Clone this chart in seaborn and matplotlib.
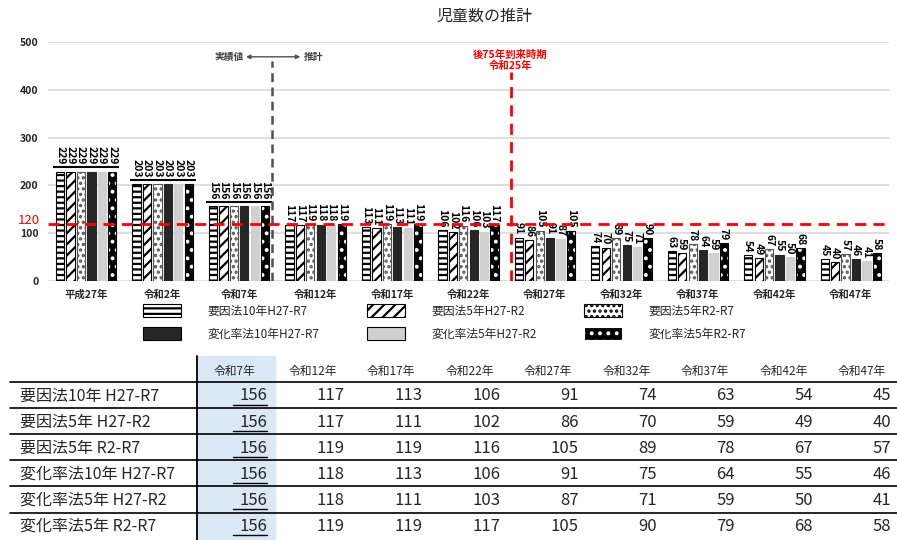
import numpy as np
import pandas as pd
import matplotlib
matplotlib.use('Agg')
import matplotlib.pyplot as plt
import seaborn as sns
from matplotlib.patches import Patch, Rectangle

# ---------------- data ----------------
years = ['平成27年', '令和2年', '令和7年', '令和12年', '令和17年', '令和22年',
         '令和27年', '令和32年', '令和37年', '令和42年', '令和47年']
series_names = ['要因法10年 H27-R7', '要因法5年 H27-R2', '要因法5年 R2-R7',
                '変化率法10年 H27-R7', '変化率法5年 H27-R2', '変化率法5年 R2-R7']
youin10_h27_r7 = [229, 203, 156, 117, 113, 106, 91, 74, 63, 54, 45]
youin5_h27_r2 = [229, 203, 156, 117, 111, 102, 86, 70, 59, 49, 40]
youin5_r2_r7 = [229, 203, 156, 119, 119, 116, 105, 89, 78, 67, 57]
henka10_h27_r7 = [229, 203, 156, 118, 113, 106, 91, 75, 64, 55, 46]
henka5_h27_r2 = [229, 203, 156, 118, 111, 103, 87, 71, 59, 50, 41]
henka5_r2_r7 = [229, 203, 156, 119, 119, 117, 105, 90, 79, 68, 58]
yticks = [0, 100, 200, 300, 400, 500]
threshold = 120
table_start = 2          # table starts at 令和7年
actual_end = 2.43        # 実績値 / 推計 boundary (category position)
r25_pos = 5.55           # 令和25年 position between 令和22年 and 令和27年

series_values = [youin10_h27_r7, youin5_h27_r2, youin5_r2_r7,
                 henka10_h27_r7, henka5_h27_r2, henka5_r2_r7]

# ---------------- style ----------------
sns.set_style('white')
plt.rcParams['font.family'] = ['Noto Sans CJK JP', 'DejaVu Sans']
plt.rcParams['hatch.linewidth'] = 1.6

styles = [
    dict(fc='white', ec='black', hatch='---'),
    dict(fc='white', ec='black', hatch='///'),
    dict(fc='white', ec='#555555', hatch='...'),
    dict(fc='#262626', ec='#262626', hatch=None),
    dict(fc='#d0d0d0', ec='#d0d0d0', hatch=None),
    dict(fc='black', ec='white', hatch='..'),
]

rows = []
for name, vals in zip(series_names, series_values):
    for y, v in zip(years, vals):
        rows.append({'year': y, 'series': name, 'value': v})
df = pd.DataFrame(rows)

W, H = 897, 540
fig = plt.figure(figsize=(W / 100, H / 100), dpi=100)
ax = fig.add_axes([48 / W, 1 - 281 / H, (889 - 48) / W, (281 - 42) / H])

sns.barplot(data=df, x='year', y='value', hue='series', order=years,
            hue_order=series_names, width=0.82, errorbar=None, legend=False, ax=ax)

bw = 0.108
for i, cont in enumerate(ax.containers):
    st = styles[i]
    for j, p in enumerate(cont.patches):
        cx = p.get_x() + p.get_width() / 2
        p.set_width(bw)
        p.set_x(cx - bw / 2)
        p.set_facecolor(st['fc'])
        p.set_edgecolor(st['ec'])
        p.set_linewidth(0.8)
        if st['hatch']:
            p.set_hatch(st['hatch'])
        if i == 5:
            ax.add_patch(Rectangle((p.get_x(), 0), p.get_width(), p.get_height(),
                                   fill=False, ec='black', lw=0.8, zorder=p.get_zorder() + 0.1))
        v = series_values[i][j]
        same = len(set(sv[j] for sv in series_values)) == 1
        ax.annotate(str(v), xy=(cx, p.get_height()), xytext=(0, 5 if same else 2),
                    textcoords='offset points', rotation=-90, ha='center', va='bottom',
                    fontsize=7.5, fontweight='bold', color='black')

# underline under labels for groups where all values equal
for j in range(len(years)):
    vals = [sv[j] for sv in series_values]
    if len(set(vals)) == 1:
        ax.hlines(vals[0] + 9, j - 0.43, j + 0.43, color='black', lw=1.5, zorder=5)

ax.set_xlim(-0.5, len(years) - 0.5)
ax.set_ylim(0, 500)
ax.set_yticks(yticks)
ax.set_yticklabels([str(t) for t in yticks], fontsize=7.5, fontweight='bold')
ax.set_xticks(range(len(years)))
ax.set_xticklabels(years, fontsize=7.5, fontweight='bold')
ax.tick_params(axis='both', length=0)
ax.tick_params(axis='y', pad=7)
ax.tick_params(axis='x', pad=6)
ax.set_xlabel('')
ax.set_ylabel('')
for s in ax.spines.values():
    s.set_visible(False)
ax.grid(axis='y', color='#d9d9d9', lw=1.2)
ax.set_axisbelow(True)

# red threshold line
ax.axhline(threshold, color='#ff0000', lw=2, ls=(0, (4, 2.6)), zorder=6)
ax.annotate(str(threshold), xy=(0, threshold), xycoords=('axes fraction', 'data'),
            xytext=(-6, 2), textcoords='offset points', ha='right', va='center',
            color='#ff0000', fontsize=9.5)

# actual / forecast boundary
ax.plot([actual_end, actual_end], [0, 460], color='#505050', lw=1.8,
        ls=(0, (3.5, 2.2)), zorder=6)
ax.annotate('', xy=(actual_end - 0.34, 469), xytext=(actual_end + 0.37, 469),
            arrowprops=dict(arrowstyle='<|-|>', color='#505050', lw=1,
                            mutation_scale=6, shrinkA=0, shrinkB=0))
ax.text(actual_end - 0.37, 469, '実績値', ha='right', va='center', fontsize=7,
        fontweight='bold', color='#404040')
ax.text(actual_end + 0.41, 469, '推計', ha='left', va='center', fontsize=7,
        fontweight='bold', color='#404040')

# 令和25年 marker
ax.plot([r25_pos, r25_pos], [0, 438], color='#ff0000', lw=2,
        ls=(0, (4, 2.6)), zorder=6)
ax.text(r25_pos, 440, '後75年到来時期\n令和25年', ha='center', va='bottom',
        fontsize=7.5, fontweight='bold', color='#ff0000', linespacing=1.05)

# title
fig.text(484 / W, 1 - 16 / H, '児童数の推計', ha='center', va='center', fontsize=11.5)

# legend (three columns)
handles = [Patch(facecolor=st['fc'], edgecolor=('black' if i != 5 else 'white'),
                 hatch=st['hatch'], lw=0.8) for i, st in enumerate(styles)]
labels = [n.replace(' ', '') for n in series_names]
col_x = [143, 367, 584]
for c in range(3):
    idx = [c, c + 3]
    lg = fig.legend([handles[k] for k in idx], [labels[k] for k in idx],
                    loc='upper left', bbox_to_anchor=(col_x[c] / W, 1 - 304 / H),
                    frameon=False, fontsize=8.5, handlelength=3.2, handleheight=1.3,
                    handletextpad=2.3, labelspacing=0.85, borderpad=0, borderaxespad=0)

# ---------------- table ----------------
tax = fig.add_axes([0, 0, 1, (H - 350) / H])
tax.set_xlim(0, W)
tax.set_ylim(H, 350)
tax.axis('off')

tyears = years[table_start:]
hl_left, hl_right = 197, 275
tax.add_patch(Rectangle((hl_left, 356), hl_right - hl_left, H - 356,
                        color='#dbe8f6', zorder=0))
tax.plot([hl_left, hl_left], [356, H], color='black', lw=1.3)
row_pitch = 26.1
for k in range(len(series_names)):
    yl = 382 + k * row_pitch
    tax.plot([10, W], [yl, yl], color='black', lw=1.2)

for i, y in enumerate(tyears):
    tax.text(234 + i * 78.5, 371, y, ha='center', va='center', fontsize=8.5)

for r, (name, vals) in enumerate(zip(series_names, series_values)):
    yc = 396 + r * row_pitch
    tax.text(20, yc, name, ha='left', va='center', fontsize=11.5)
    for i, v in enumerate(vals[table_start:]):
        xr = 267 + i * 78
        tax.text(xr, yc, str(v), ha='right', va='center', fontsize=12)
        if i == 0:
            tax.plot([233, xr], [yc + 8.5, yc + 8.5], color='black', lw=1)

fig.savefig('out.png', dpi=100)
